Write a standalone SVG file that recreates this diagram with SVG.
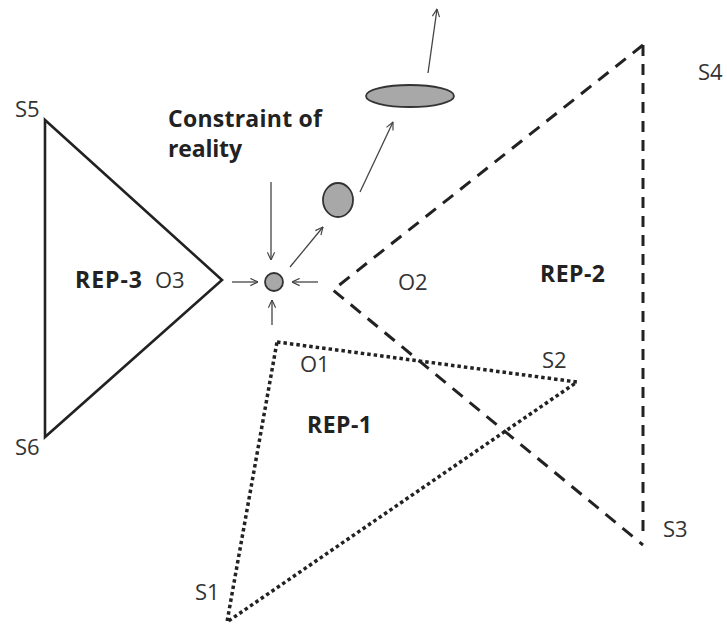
<svg xmlns="http://www.w3.org/2000/svg" width="727" height="628" viewBox="0 0 727 628">
<style>
.lbl{font-family:"Open Sans","DejaVu Sans",sans-serif;font-size:22px;fill:#333}
.b{font-weight:bold;font-size:23px;fill:#222}
.arr{stroke:#444;stroke-width:1.3;fill:none;marker-end:url(#ah)}
.blob{fill:#a8a8a8;stroke:#333;stroke-width:1.8}
</style>
<defs>
<marker id="ah" viewBox="0 0 10 10" refX="9.5" refY="5" markerWidth="9" markerHeight="9" markerUnits="userSpaceOnUse" orient="auto">
<path d="M1,1 L9.5,5 L1,9" fill="none" stroke="#444" stroke-width="1.3"/>
</marker>
</defs>
<rect width="727" height="628" fill="#fff"/>
<g id="rep3">
<polygon points="45,120 222,280 45,437" fill="none" stroke="#222" stroke-width="2.6"/>
<text class="lbl" x="15" y="117">S5</text>
<text class="lbl" x="15" y="455">S6</text>
<text class="lbl b" x="75" y="288" textLength="67" lengthAdjust="spacing">REP-3</text>
<text class="lbl" x="155" y="288">O3</text>
</g>
<g id="rep2">
<polyline points="643,45 333,290 643,545" fill="none" stroke="#222" stroke-width="3" stroke-dasharray="13,9"/>
<line x1="643" y1="45" x2="643" y2="535" stroke="#222" stroke-width="3" stroke-dasharray="11,8"/>
<text class="lbl" x="698" y="80">S4</text>
<text class="lbl" x="663" y="537">S3</text>
<text class="lbl b" x="540" y="282" textLength="65" lengthAdjust="spacing">REP-2</text>
<text class="lbl" x="398" y="290">O2</text>
</g>
<g id="rep1">
<polygon points="277,342 577,382 227,622" fill="none" stroke="#222" stroke-width="3.5" stroke-dasharray="3.5,3"/>
<text class="lbl" x="195" y="600">S1</text>
<text class="lbl" x="542" y="368">S2</text>
<text class="lbl" x="300" y="372">O1</text>
<text class="lbl b" x="307" y="433" textLength="65" lengthAdjust="spacing">REP-1</text>
</g>
<g id="constraint">
<text class="lbl b" x="168" y="127" textLength="154" lengthAdjust="spacing">Constraint of</text>
<text class="lbl b" x="168" y="157" textLength="74" lengthAdjust="spacing">reality</text>
</g>
<g id="center">
<circle cx="274" cy="282" r="9" class="blob"/>
</g>
<g id="mid">
<ellipse cx="338" cy="200" rx="15" ry="17" class="blob"/>
</g>
<g id="top">
<ellipse cx="410" cy="96" rx="44" ry="11" class="blob"/>
</g>
<g id="connectors">
<line class="arr" x1="271" y1="182" x2="271" y2="260"/>
<line class="arr" x1="232" y1="282" x2="258" y2="282"/>
<line class="arr" x1="318" y1="282" x2="292" y2="282"/>
<line class="arr" x1="272" y1="325" x2="272" y2="300"/>
<line class="arr" x1="290" y1="267" x2="323" y2="227"/>
<line class="arr" x1="360" y1="192" x2="393" y2="122"/>
<line class="arr" x1="428" y1="73" x2="437" y2="9"/>
</g>
</svg>
